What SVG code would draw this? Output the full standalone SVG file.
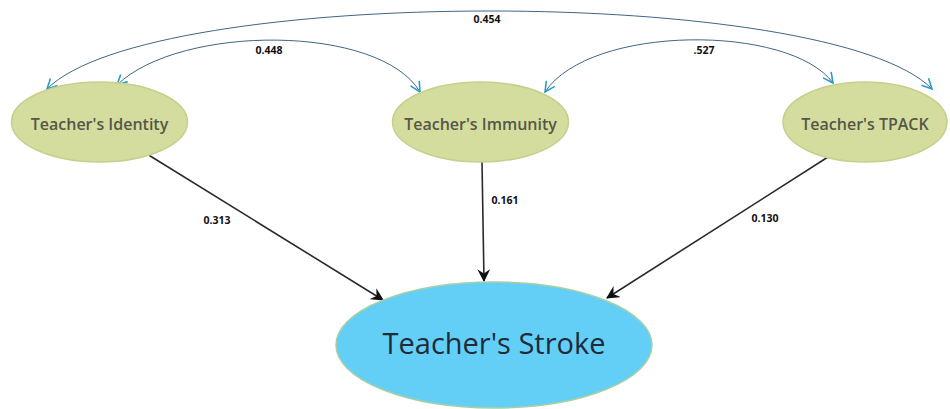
<svg xmlns="http://www.w3.org/2000/svg" width="950" height="409" viewBox="0 0 950 409">
<defs>
<style>
.node ellipse.lat{fill:#d4dd9e;stroke:#c6cf8c;stroke-width:1.5}
.node text{font-family:"Open Sans","DejaVu Sans",sans-serif;text-anchor:middle}
.lt{font-size:16px;font-weight:600;fill:#55574a}
.st{font-size:29px;fill:#1f2b38}
.cov{fill:none;stroke:#3f6685;stroke-width:1}
.path{fill:none;stroke:#2a2a2a;stroke-width:1.6}
.lbl{font-family:"Open Sans","DejaVu Sans",sans-serif;font-size:10.5px;font-weight:bold;fill:#111;text-anchor:middle}
</style>
<marker id="cv" viewBox="0 0 12 12" refX="11" refY="6" markerWidth="12" markerHeight="12" markerUnits="userSpaceOnUse" orient="auto-start-reverse">
<path d="M1,1 L11,6 L1,11" fill="none" stroke="#2a9dc6" stroke-width="1.6"/>
</marker>
<marker id="ah" viewBox="0 0 12 12" refX="11" refY="6" markerWidth="13" markerHeight="13" markerUnits="userSpaceOnUse" orient="auto">
<path d="M0,0 L12,6 L0,12 L4,6 Z" fill="#111"/>
</marker>
</defs>
<rect width="950" height="409" fill="#fff"/>
<g id="connectors">
<path class="cov" d="M47,89 C150,-15 830,-15 932,89" marker-start="url(#cv)" marker-end="url(#cv)"/>
<path class="cov" d="M117,85 C180,24 380,24 420,92" marker-start="url(#cv)" marker-end="url(#cv)"/>
<path class="cov" d="M545,92 C590,24 790,24 833,83" marker-start="url(#cv)" marker-end="url(#cv)"/>
<line class="path" x1="147" y1="154" x2="383" y2="300" marker-end="url(#ah)"/>
<line class="path" x1="482" y1="162" x2="484" y2="281" marker-end="url(#ah)"/>
<line class="path" x1="828" y1="157" x2="607" y2="298" marker-end="url(#ah)"/>
<text class="lbl" x="487" y="23">0.454</text>
<text class="lbl" x="269" y="54">0.448</text>
<text class="lbl" x="704" y="54">.527</text>
<text class="lbl" x="217" y="224">0.313</text>
<text class="lbl" x="505" y="204">0.161</text>
<text class="lbl" x="765" y="222">0.130</text>
</g>
<g id="identity" class="node">
<ellipse class="lat" cx="99.5" cy="122" rx="88" ry="40"/>
<text class="lt" x="99.5" y="130">Teacher's Identity</text>
</g>
<g id="immunity" class="node">
<ellipse class="lat" cx="480.5" cy="122" rx="88" ry="40"/>
<text class="lt" x="480.5" y="130">Teacher's Immunity</text>
</g>
<g id="tpack" class="node">
<ellipse class="lat" cx="865" cy="122" rx="82" ry="40"/>
<text class="lt" x="865" y="130">Teacher's TPACK</text>
</g>
<g id="stroke" class="node">
<ellipse cx="494" cy="345" rx="158" ry="63" fill="#63cff6" stroke="#a6cfa6" stroke-width="1.5"/>
<text class="st" x="494" y="354">Teacher's Stroke</text>
</g>
</svg>
